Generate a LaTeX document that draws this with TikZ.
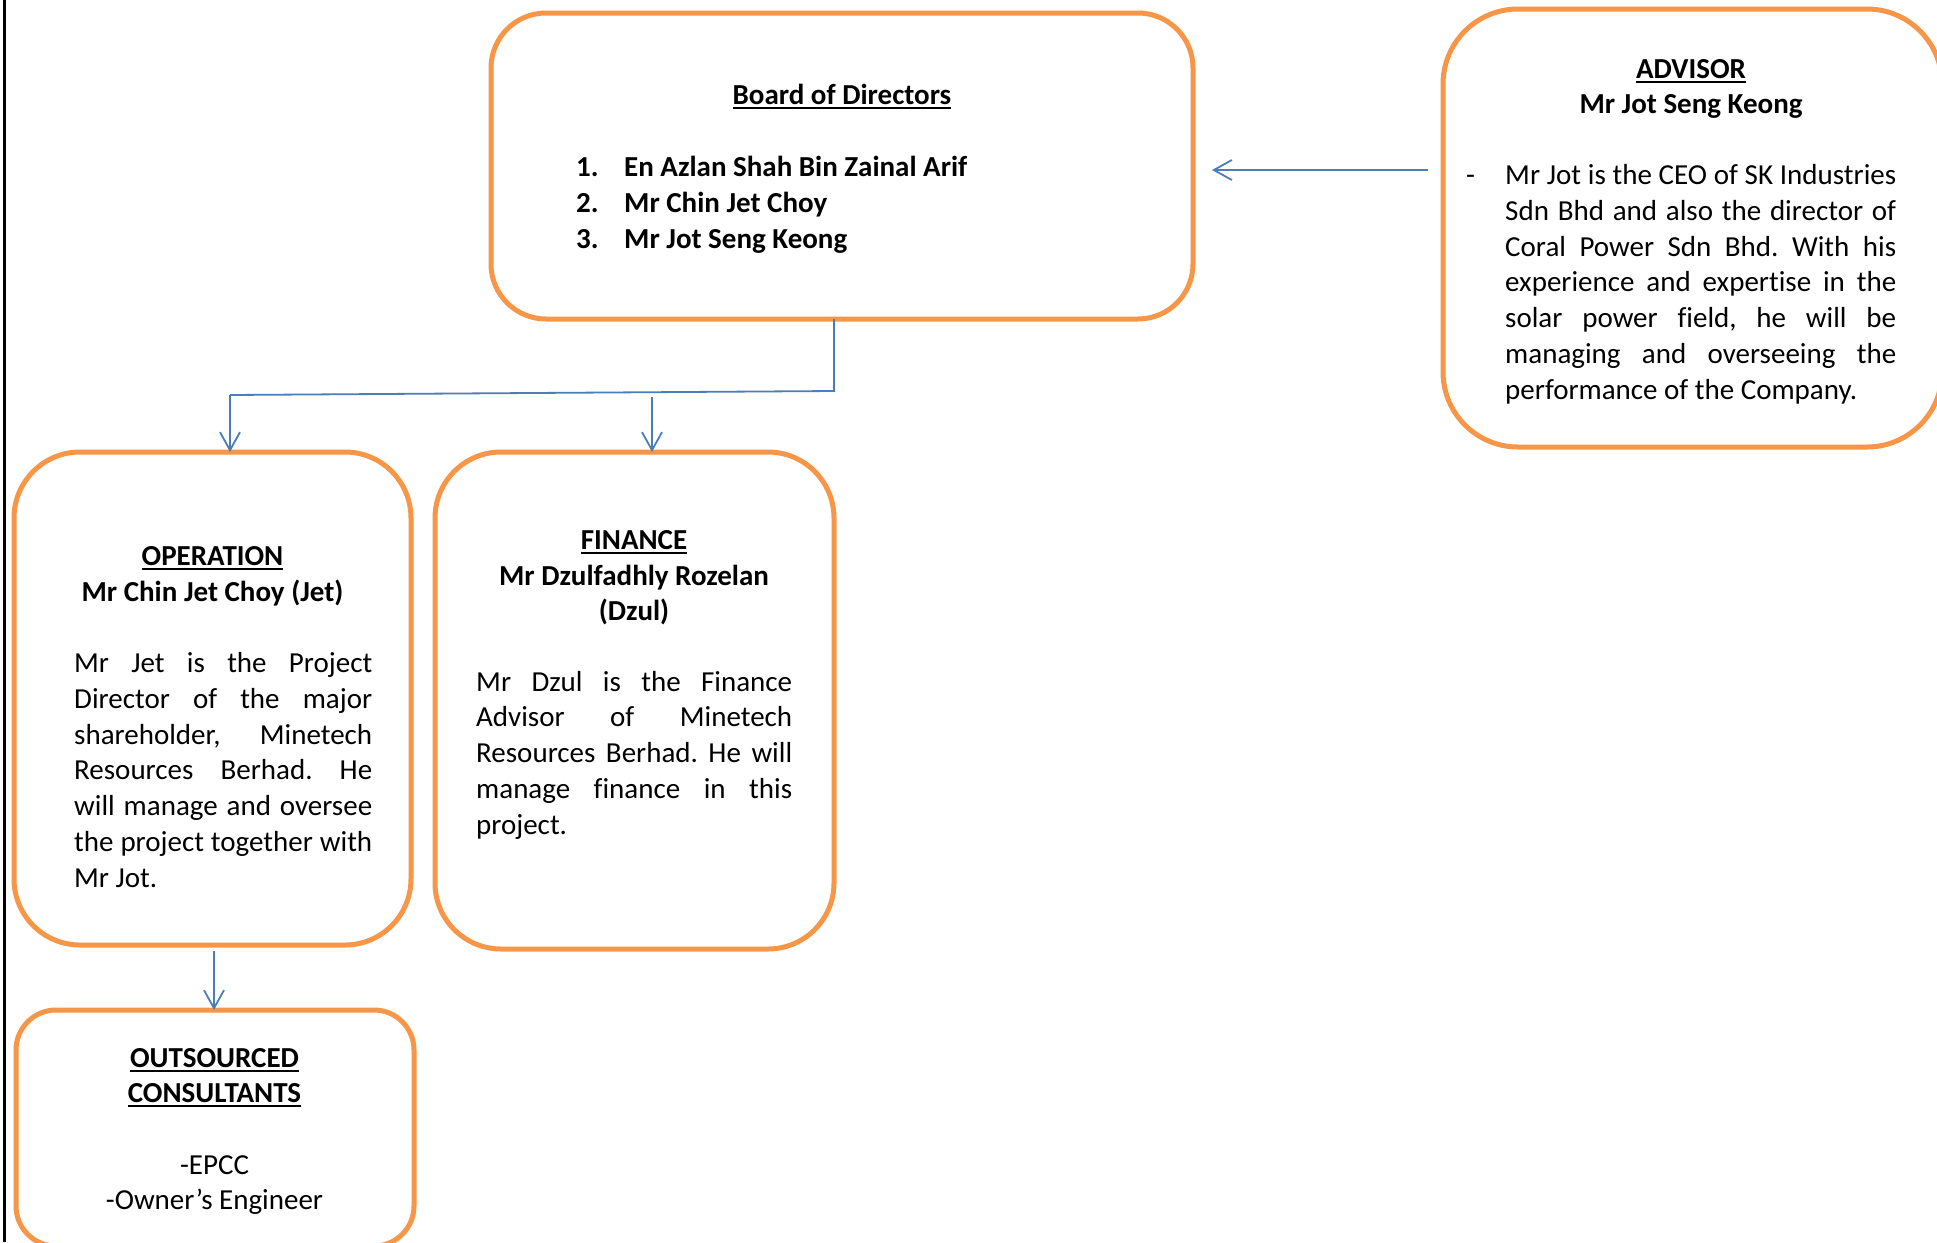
\documentclass[tikz,border=0pt]{standalone}
\usepackage{fontspec}
\setmainfont{Carlito}[Ligatures=NoCommon]
\usetikzlibrary{arrows.meta,calc}
\definecolor{boxorange}{HTML}{F79646}
\definecolor{connblue}{HTML}{4A7EBB}
\newcommand\myul[1]{\vtop{\hbox{#1}\kern2.5pt\hrule height 2pt}}
\frenchspacing
\begin{document}
\begin{tikzpicture}[x=1pt,y=-1pt,
  orgbox/.style={draw=boxorange, line width=5pt, rounded corners=#1, inner sep=0pt, outer sep=0pt, anchor=north west},
  conn/.style={draw=connblue, line width=1.8pt},
  arr/.style={conn, -{Straight Barb[length=18pt,width=20pt,line width=1.8pt]}},
  txt/.style={inner sep=0pt, font=\fontsize{29}{35.8}\selectfont},
  btxt/.style={txt, font=\fontsize{29}{35.8}\selectfont\bfseries}]
\useasboundingbox (0,0) rectangle (1937,1242);
\clip (0,0) rectangle (1937,1242);
\fill[white] (0,0) rectangle (1937,1242);
% left rule
\draw[line width=3pt] (4,0) -- (4,1242);
% boxes
\node[orgbox=55pt, minimum width=702pt, minimum height=306pt] (board) at (491,13) {};
\node[orgbox=75pt, minimum width=499pt, minimum height=438pt] (adv) at (1443,9) {};
\node[orgbox=66pt, minimum width=397pt, minimum height=493pt] (op) at (14,452) {};
\node[orgbox=66pt, minimum width=399pt, minimum height=497pt] (fin) at (435,452) {};
\node[orgbox=40pt, minimum width=398pt, minimum height=236pt] (out) at (16,1010) {};
% board text
\node[btxt, anchor=base] (boardt) at (842,104) {\myul{Board of Directors}};
\node[btxt, anchor=base west] (n1) at (576,176) {1.};
\node[btxt, anchor=base west] (n2) at (576,212) {2.};
\node[btxt, anchor=base west] (n3) at (576,248) {3.};
\node[btxt, anchor=base west] (m1) at (624,176) {En Azlan Shah Bin Zainal Arif};
\node[btxt, anchor=base west] (m2) at (624,212) {Mr Chin Jet Choy};
\node[btxt, anchor=base west] (m3) at (624,248) {Mr Jot Seng Keong};
% advisor text
\node[btxt, anchor=base] (advt) at (1691,78.5) {\myul{ADVISOR}};
\node[btxt, anchor=base] (advn) at (1691,113) {Mr Jot Seng Keong};
\node[txt, anchor=base west] (advd) at (1466,184.5) {-};
\node[txt, anchor=base west] (advp) at (1505,184.5) {\vtop{%
\hbox to 391pt{Mr Jot is the CEO of SK Industries}
\hbox to 391pt{Sdn Bhd and also the director of}
\hbox to 391pt{Coral Power Sdn Bhd. With his}
\hbox to 391pt{experience and expertise in the}
\hbox to 391pt{solar power field, he will be}
\hbox to 391pt{managing and overseeing the}
\hbox{performance of the Company.}}};
% operation text
\node[btxt, anchor=base] (opt) at (212.5,565) {\myul{OPERATION}};
\node[btxt, anchor=base] (opn) at (212.5,601) {Mr Chin Jet Choy (Jet)};
\node[txt, anchor=base west] (opp) at (74,672.5) {\vtop{%
\hbox to 298pt{Mr Jet is the Project}
\hbox to 298pt{Director of the major}
\hbox to 298pt{shareholder, Minetech}
\hbox to 298pt{Resources Berhad. He}
\hbox to 298pt{will manage and oversee}
\hbox to 298pt{the project together with}
\hbox{Mr Jot.}}};
% finance text
\node[btxt, anchor=base] (fint) at (634,549) {\myul{FINANCE}};
\node[btxt, anchor=base] (finn1) at (634,585) {Mr Dzulfadhly Rozelan};
\node[btxt, anchor=base] (finn2) at (634,620) {(Dzul)};
\node[txt, anchor=base west] (finp) at (476,691) {\vtop{%
\hbox to 316pt{Mr Dzul is the Finance}
\hbox to 316pt{Advisor of Minetech}
\hbox to 316pt{Resources Berhad. He will}
\hbox to 316pt{manage finance in this}
\hbox{project.}}};
% outsourced text
\node[btxt, anchor=base] (outt1) at (214.5,1067) {\myul{OUTSOURCED}};
\node[btxt, anchor=base] (outt2) at (214.5,1102) {\myul{CONSULTANTS}};
\node[txt, anchor=base] (oute1) at (214.5,1174) {-EPCC};
\node[txt, anchor=base] (oute2) at (214.5,1209.5) {-Owner’s Engineer};
% connectors
\coordinate (a0) at (1428,170);
\draw[arr] (a0) -- ($(board.east |- a0)+(19,0)$);
\coordinate (j1) at (834,391);
\coordinate (j2) at (230,395);
\draw[conn] (board.south -| j1) -- (j1) -- (j2);
\draw[arr] (j2) -- (j2 |- op.north);
\coordinate (f0) at (652,397);
\draw[arr] (f0) -- (f0 |- fin.north);
\coordinate (o0) at (214,951);
\draw[arr] (o0) -- (o0 |- out.north);
\end{tikzpicture}
\end{document}
